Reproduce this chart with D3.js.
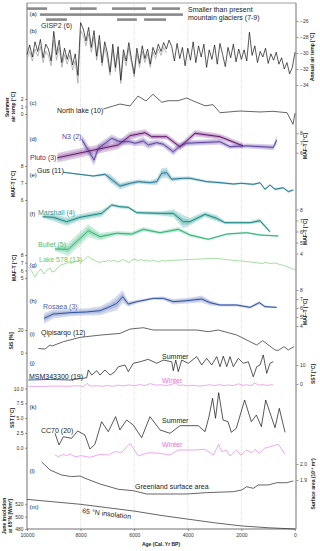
<!DOCTYPE html>
<html>
<head>
<meta charset="utf-8">
<script src="https://cdn.jsdelivr.net/npm/d3@7"></script>
<style>
body { margin: 0; background: #fff; }
svg text { font-family: "Liberation Sans", Arial, sans-serif; }
.tick text { font-size: 5px; fill: #333; }
.tick line { stroke: #555; stroke-width: 0.6; }
.lab { font-size: 7px; }
.plab { font-size: 6px; fill: #222; }
.atitle { font-size: 5px; font-weight: bold; fill: #222; }
</style>
</head>
<body>
<div id="chart"></div>
<script>
// ---- DATA (years BP) ----

// (a) glacier bars: [start, end] per row
const glacierRow1 = [[10000, 9250], [8400, 7400], [6830, 5560], [5340, 4290]];
const glacierRow2 = [[9520, 4180]];
const glacierRow3 = [[9290, 8510], [6640, 5900], [5630, 4810]];

// (b) GISP2 annual air temp, every 100 yr from 10000 to 0
const gisp2Black = [-30.2,-29.0,-30.5,-28.6,-29.8,-28.3,-30.6,-28.9,-29.5,-31.0,
  -27.3,-30.2,-28.4,-31.2,-29.4,-30.8,-29.6,-31.5,-30.1,-32.8,
  -26.2,-27.0,-28.5,-26.8,-29.3,-27.2,-30.4,-27.8,-31.2,-28.6,
  -30.0,-32.4,-28.9,-31.8,-29.2,-33.4,-29.6,-31.0,-28.7,-30.8,
  -32.6,-29.4,-31.3,-29.1,-30.7,-29.5,-31.4,-29.3,-30.2,-28.9,
  -29.8,-28.7,-29.5,-28.4,-29.2,-31.0,-28.8,-30.7,-29.3,-31.6,
  -29.4,-30.9,-28.6,-31.2,-29.1,-30.5,-28.9,-31.8,-29.6,-30.8,
  -29.0,-31.4,-28.8,-30.2,-31.7,-29.3,-30.6,-28.9,-31.1,-29.5,
  -30.8,-29.6,-31.0,-27.4,-30.3,-29.1,-31.2,-29.8,-30.5,-29.4,
  -31.3,-30.1,-30.9,-29.9,-31.4,-30.6,-32.0,-31.2,-32.6,-31.8,-29.9];
const gisp2Gray = [-30.8,-29.8,-31.0,-29.5,-30.4,-29.2,-31.2,-29.8,-30.3,-31.6,
  -28.4,-30.9,-29.3,-31.8,-30.2,-31.4,-30.3,-32.1,-31.0,-33.8,
  -27.2,-27.8,-29.1,-27.6,-29.9,-28.0,-30.9,-28.6,-31.6,-29.3,
  -30.7,-32.8,-29.6,-32.3,-29.9,-33.8,-30.2,-31.6,-29.4,-31.3,
  -33.0,-30.1,-31.8,-29.8,-31.2,-30.1,-31.8,-29.9,-30.7,-29.5,
  -30.3,-29.3,-30.0];

// (c) North lake summer air temp
const northYears = [7152,6530,6156,5858,5560,5298,4974,4738,4365,4041,3731,3358,3059,2798,2052,1306,821,298,75,0];
const northTemp  = [0.67,1.33,1.07,2.4,1.73,2.63,1.56,1.77,1.77,2.13,1.64,1.1,1.24,0.17,0.4,0.27,0.36,0.17,-1.37,0.1];

// (d) N3 and Pluto MAF-T
const n3Years = [7958,7499,7339,6839,6529,6156,5970,5660,5473,5160,4914,4541,4291,4041,3668,2798,2425,1802,810,683];
const n3Temp  = [7.38,5.25,6.45,7.48,7.13,7.13,6.97,7.2,6.8,7.03,6.87,6.1,6.7,6.97,7.03,7.13,6.62,6.7,6.55,7.3];
const n3Err   = [0.5,0.6,0.5,0.4,0.35,0.35,0.3,0.45,0.4,0.3,0.3,0.4,0.35,0.3,0.3,0.3,0.25,0.25,0.3,0.45];
const plutoYears = [8869,6593,6156,5597,5347,4787,4291,3731,2798,1940];
const plutoTemp  = [5.48,6.8,7.75,8.06,7.65,7.65,6.6,8.0,7.65,6.7];
const plutoErr   = [0.5,0.45,0.4,0.35,0.3,0.3,0.35,0.35,0.3,0.3];

// (e) Gus MAF-T
const gusYears = [8645,7526,7089,6902,6529,6156,5846,5410,5160,4974,4787,4600,4168,3918,3295,2798,2302,1989,1556,1306,1119,933,746,437,250,63];
const gusTemp  = [7.63,7.41,7.51,7.28,6.82,6.98,7.08,7.02,7.08,7.57,7.61,7.22,7.28,7.28,7.08,7.02,6.94,6.98,6.92,7.02,6.63,6.88,6.63,6.72,6.49,6.59];
const gusErr   = [0.04,0.06,0.1,0.25,0.2,0.15,0.12,0.12,0.2,0.3,0.3,0.15,0.1,0.1,0.08,0.08,0.06,0.06,0.06,0.06,0.08,0.06,0.08,0.06,0.08,0.06];

// (f) Marshall and Bullet MAF-T
const marshallYears = [9413,9018,8518,8022,7212,6839,6529,6220,5906,5037,4541,4168,3918,3358,2921,2612,1679,1306,933];
const marshallTemp  = [7.35,7.29,6.89,7.29,7.65,8.41,8.25,8.2,7.71,7.65,7.65,6.89,6.89,7.56,7.2,6.8,6.8,6.98,5.98];
const marshallErr   = [0.15,0.35,0.4,0.3,0.3,0.15,0.15,0.15,0.15,0.2,0.35,0.6,0.35,0.25,0.3,0.15,0.15,0.2,0.15];
const bulletYears = [8955,8458,7712,7275,6652,6093,5660,5037,4354,3918,3235,2548,1802,1306,623];
const bulletTemp  = [4.41,4.38,6.07,5.53,5.84,5.77,6.2,5.89,6.2,5.68,5.29,5.77,5.89,5.68,5.59];
const bulletErr   = [0.2,0.6,0.6,0.35,0.2,0.2,0.2,0.15,0.2,0.15,0.1,0.1,0.1,0.1,0.1];

// (g) Lake 578 MAF-T
const lake578Years = [9960,9850,9700,9589,9477,9365,9253,9141,9066,8955,8843,8731,8619,8507,8395,8283,8171,8059,7947,7835,
  7723,7611,7499,7387,7275,7164,7052,6977,6865,6753,6641,6529,6417,6305,6193,6082,5970,5858,5746,5634,
  5522,5410,5298,5186,5074,4962,4850,4664,4291,3918,3544,3171,2910,2612,2239,1866,1492,1231,1082,933,746,560,298,0];
const lake578Temp  = [6.48,6.05,5.14,5.79,6.18,5.53,6.05,6.31,5.79,5.92,6.44,6.70,6.83,6.96,7.09,7.03,7.16,7.29,7.16,7.48,
  7.81,7.48,7.35,7.16,7.03,7.22,7.09,7.35,7.16,7.35,7.09,7.22,7.42,7.22,7.03,7.35,7.48,7.22,7.42,7.22,
  7.35,7.16,7.35,7.22,7.09,7.29,7.22,7.29,7.35,7.42,7.48,7.55,7.57,7.42,7.29,7.16,7.03,6.90,7.03,6.90,6.96,6.77,6.51,6.05];

// (h) Rosaea MAF-T
const rosaeaYears = [9365,9018,8395,7772,7275,6902,6652,6429,6220,5906,5287,4914,4541,4041,3481,3171,2798,2175,1679,1332,1119,683];
const rosaeaTemp  = [4.85,5.33,5.48,5.56,5.7,6.15,6.52,7.26,6.44,6.7,7.07,7.07,6.7,6.81,7.0,6.59,6.33,6.33,6.07,6.59,6.15,6.07];
const rosaeaErr   = [0.6,0.5,0.4,0.4,0.5,0.6,0.8,0.7,0.3,0.2,0.15,0.2,0.3,0.3,0.4,0.3,0.15,0.15,0.15,0.2,0.15,0.1];

// (i) Qipisarqo SiS
const qipYears = [9578,9328,9141,9066,8645,8022,7275,6529,6156,5660,5287,4664,3668,3235,2862,2175,1429,1205,746,623,410,250,37];
const qipSiS   = [3.8,3.2,6.8,5.9,9.7,13.5,15.5,17.0,20.8,22.0,20.0,20.0,20.0,18.5,20.0,15.6,6.8,10.6,2.4,2.0,5.3,2.4,5.3];

// (j) MSM343300 SST
const msmSummerYears = [9951,9141,8395,7772,7712,7585,7399,7275,7089,6902,6716,6593,6343,6220,6033,5783,5474,5160,4914,4600,
  4541,4451,4354,4227,3981,3668,3481,3295,3108,2921,2798,2675,2548,2425,2302,2115,1929,1742,1556,1429,1306,1183,1056,933,810];
const msmSummerSST   = [2.1,2.4,2.1,3.3,7.4,4.7,7.0,4.7,7.4,4.7,6.5,9.1,10.0,6.5,10.9,11.7,13.0,10.9,12.6,11.7,
  7.0,12.6,6.5,12.6,10.9,14.4,10.0,13.5,10.0,14.4,9.1,14.7,9.1,14.4,9.1,13.5,10.9,11.7,3.8,9.1,10.0,15.3,5.6,10.9,11.7];
const msmWinterYears = [9950,9500,9000,8500,8100,7900,7750,7650,7400,7200,7000,6800,6600,6400,6200,6000,5800,5600,5400,5200,
  5000,4800,4600,4450,4350,4200,4000,3800,3600,3400,3200,3000,2800,2650,2500,2300,2100,1950,1800,1650,1500,1350,1200,1050,900,810];
const msmWinterSST   = [-1.2,-1.3,-1.1,-1.2,-0.9,-1.3,0.3,-1.1,-0.9,-1.2,-0.8,-1.2,-0.6,-1.0,-0.5,-0.9,-0.3,-0.8,0.2,-0.6,
  -0.4,-0.9,-0.2,0.5,-0.8,-0.5,-1.0,-0.7,-1.1,-0.9,-0.4,-0.8,-0.3,-0.9,-0.5,-0.8,0.1,-0.7,-0.4,-0.9,0.5,-0.6,-0.3,-0.8,-0.4,-0.6];

// (k) CC70 SST
const ccSummerYears = [8955,8806,8645,8335,8111,7839,7652,7466,7215,6966,6694,6534,6283,6033,5722,5410,5037,4664,4291,3608,3358,3210,3076,2966,2848,2687,2499,2376,2190,1880,1629,1442,1255,1094,746,585,373];
const ccSummerSST   = [2.43,0.46,1.86,1.59,2.82,2.15,-0.22,0.57,4.39,2.7,5.24,3.0,4.68,3.83,1.69,5.24,3.0,2.43,3.72,3.72,2.7,5.24,8.35,4.97,9.29,4.68,4.39,2.6,3.28,8.06,4.39,5.52,3.55,8.06,3.38,6.65,2.6];
const ccWinterYears = [8955,8831,8645,8520,8396,8209,7960,7652,7280,6966,6716,6468,6156,5846,5473,5037,4664,4354,3795,3358,3046,2848,2735,2550,2426,2177,2028,1803,1617,1493,1331,1144,933,623,373];
const ccWinterSST   = [-1.23,-1.52,-1.12,-1.35,-1.06,-1.52,-1.35,-1.63,-1.12,-1.23,-0.67,-0.78,0.74,-1.40,-0.84,-0.95,-1.23,-0.39,-0.39,-0.28,-1.23,0.57,-0.67,-0.39,-1.40,-0.39,-1.23,-0.39,-0.84,-0.28,-0.95,-0.11,0.17,0.57,-1.10];

// (l) Greenland surface area (10^12 m2)
const areaYears = [9451,9141,8705,8332,8022,7835,7275,6593,6033,5533,4787,4041,3295,2302,1989,1802,1556,1369,996,683,310,63];
const areaValue = [2.0125,1.9625,1.931,1.921,1.925,1.911,1.875,1.842,1.833,1.8125,1.8125,1.8125,1.821,1.827,1.8375,1.858,1.848,1.869,1.869,1.883,1.883,1.894];

// (m) June insolation at 65N
const insolYears = [10000,9000,8000,7000,6000,5000,4000,3000,2000,1000,0];
const insolValue = [528,524,520,514.5,509,502,496,490,485,482,480];

const ageTicks = [10000, 8000, 6000, 4000, 2000, 0];

// ---- LAYOUT ----
const width = 320, height = 551;
const plotLeft = 27, plotRight = 295, plotTop = 3, plotBottom = 529;

const svg = d3.select("#chart").append("svg")
    .attr("width", width)
    .attr("height", height);

const x = d3.scaleLinear().domain([10000, 0]).range([plotLeft, plotRight]);

// y scales per panel
const yB = d3.scaleLinear().domain([-34, -26]).range([85, 21]);
const yC = d3.scaleLinear().domain([0, 2]).range([114, 99]);
const yD = d3.scaleLinear().domain([6, 8]).range([152.7, 133.3]);
const yE = d3.scaleLinear().domain([6, 8]).range([200, 166]);
const yF = d3.scaleLinear().domain([4, 8]).range([253.5, 209.5]);
const yG = d3.scaleLinear().domain([5, 8]).range([278.1, 255]);
const yH = d3.scaleLinear().domain([4, 8]).range([326, 290]);
const yI = d3.scaleLinear().domain([0, 20]).range([352.7, 330]);
const yJ = d3.scaleLinear().domain([0, 10]).range([384, 365]);
const yK = d3.scaleLinear().domain([0, 10]).range([447.7, 388.5]);
const yL = d3.scaleLinear().domain([1.9, 2.0]).range([480, 464]);
const yM = d3.scaleLinear().domain([480, 520]).range([529, 504.3]);

// gridlines
svg.append("g").selectAll("line")
    .data(ageTicks.slice(1, -1))
    .enter().append("line")
    .attr("x1", d => x(d)).attr("x2", d => x(d))
    .attr("y1", plotTop).attr("y2", plotBottom)
    .attr("stroke", "#c8c8c8")
    .attr("stroke-width", 0.6)
    .attr("stroke-dasharray", "1.2,1.2");

// frame
svg.append("line").attr("x1", plotLeft).attr("x2", plotRight + 1).attr("y1", plotTop).attr("y2", plotTop).attr("stroke", "#777").attr("stroke-width", 0.7);
svg.append("line").attr("x1", plotLeft).attr("x2", plotLeft).attr("y1", plotTop).attr("y2", plotBottom).attr("stroke", "#333").attr("stroke-width", 0.7);
svg.append("line").attr("x1", plotLeft).attr("x2", plotRight + 1).attr("y1", plotBottom).attr("y2", plotBottom).attr("stroke", "#333").attr("stroke-width", 0.7);
svg.append("line").attr("x1", plotRight + 1).attr("x2", plotRight + 1).attr("y1", plotTop).attr("y2", plotBottom).attr("stroke", "#888").attr("stroke-width", 1.2);

// axes helpers
function leftAxis(scale, ticks, fmt) {
    svg.append("g")
        .attr("transform", "translate(" + plotLeft + ",0)")
        .call(d3.axisLeft(scale).tickValues(ticks).tickSize(2).tickPadding(1.5).tickFormat(fmt || d3.format("d")))
        .call(g => g.select(".domain").remove());
}
function rightAxis(scale, ticks, fmt) {
    svg.append("g")
        .attr("transform", "translate(" + (plotRight + 1.5) + ",0)")
        .call(d3.axisRight(scale).tickValues(ticks).tickSize(2).tickPadding(1.5).tickFormat(fmt || d3.format("d")))
        .call(g => g.select(".domain").remove());
}

rightAxis(yB, [-26, -28, -30, -32, -34]);
leftAxis(yC, [0, 1, 2]);
rightAxis(yD, [6, 7, 8]);
leftAxis(yE, [6, 7, 8]);
rightAxis(yF, [4, 5, 6, 7, 8]);
leftAxis(yG, [5, 6, 7, 8]);
rightAxis(yH, [4, 5, 6, 7, 8]);
leftAxis(yI, [0, 20]);
rightAxis(yJ, [0, 10]);
leftAxis(yK, [0, 2.5, 5, 7.5, 10], d3.format(".1f"));
rightAxis(yL, [1.9, 2.0], d3.format(".1f"));
leftAxis(yM, [480, 500, 520]);

// x axis
svg.append("g")
    .attr("transform", "translate(0," + plotBottom + ")")
    .call(d3.axisBottom(x).tickValues(ageTicks).tickSize(2).tickPadding(2).tickFormat(d3.format("d")))
    .call(g => g.select(".domain").remove());

svg.append("text").attr("class", "atitle")
    .attr("x", (plotLeft + plotRight) / 2).attr("y", 546)
    .attr("text-anchor", "middle")
    .text("Age (Cal. Yr BP)");

// axis titles (rotated)
function vTitle(lines, cx, cy, dx) {
    let t = svg.append("text").attr("class", "atitle")
        .attr("text-anchor", "middle")
        .attr("transform", "translate(" + cx + "," + cy + ") rotate(-90)");
    lines.forEach((s, i) => {
        t.append("tspan").attr("x", 0).attr("dy", i === 0 ? 0 : dx).text(s);
    });
}
vTitle(["Summer", "air temp [°C]"], 9, 107, 5.5);
vTitle(["MAF-T [°C]"], 15, 184);
vTitle(["MAF-T [°C]"], 16, 268);
vTitle(["SiS [%]"], 13, 341);
vTitle(["SST [°C]"], 14, 418);
vTitle(["June insolation", "at 65°N [W/m²]"], 6, 516, 5.5);
vTitle(["Annual air temp [°C]"], 314, 57);
vTitle(["MAF-T [°C]"], 307, 146);
vTitle(["MAF-T [°C]"], 307, 232);
vTitle(["MAF-T [°C]"], 307, 312);
vTitle(["SST [°C]"], 315, 374);
vTitle(["Surface area (10¹² m²)"], 315, 484);

// ---- (a) glacier bars ----
const barRows = [[glacierRow1, 7.3], [glacierRow2, 13.3], [glacierRow3, 18.3]];
barRows.forEach(([row, yy]) => {
    svg.append("g").selectAll("rect")
        .data(row)
        .enter().append("rect")
        .attr("x", d => x(d[0]))
        .attr("width", d => x(d[1]) - x(d[0]))
        .attr("y", yy)
        .attr("height", 2.6)
        .attr("fill", "#8a8a8a");
});

// generic drawing helpers
function drawLine(years, vals, yScale, color, w) {
    let line = d3.line().x(d => x(d[0])).y(d => yScale(d[1]));
    svg.append("path")
        .datum(d3.zip(years, vals))
        .attr("d", line)
        .attr("fill", "none")
        .attr("stroke", color)
        .attr("stroke-width", w || 0.8)
        .attr("stroke-linejoin", "round");
}
function drawBand(years, vals, errs, yScale, color) {
    let data = d3.zip(years, vals, errs);
    let outer = d3.area().x(d => x(d[0])).y0(d => yScale(d[1] - d[2])).y1(d => yScale(d[1] + d[2]));
    let inner = d3.area().x(d => x(d[0])).y0(d => yScale(d[1] - d[2] / 2)).y1(d => yScale(d[1] + d[2] / 2));
    svg.append("path").datum(data).attr("d", outer).attr("fill", color).attr("opacity", 0.3);
    svg.append("path").datum(data).attr("d", inner).attr("fill", color).attr("opacity", 0.35);
}

// ---- (b) GISP2 ----
const gispYears = d3.range(10000, -1, -100);
drawLine(gispYears.slice(0, gisp2Gray.length), gisp2Gray, yB, "#9a9a9a", 0.7);
drawLine(gispYears, gisp2Black, yB, "#111", 0.7);

// ---- (c) North lake ----
drawLine(northYears, northTemp, yC, "#222", 0.7);

// ---- (d) N3 / Pluto ----
drawBand(plutoYears, plutoTemp, plutoErr, yD, "#8e4f9e");
drawBand(n3Years, n3Temp, n3Err, yD, "#7a62b8");
drawLine(n3Years, n3Temp, yD, "#5a3e9c", 0.9);
drawLine(plutoYears, plutoTemp, yD, "#65196a", 1.0);

// ---- (e) Gus ----
drawBand(gusYears, gusTemp, gusErr, yE, "#4a9bb0");
drawLine(gusYears, gusTemp, yE, "#23738f", 0.9);

// ---- (f) Marshall / Bullet ----
drawBand(marshallYears, marshallTemp, marshallErr, yF, "#3fa8a0");
drawBand(bulletYears, bulletTemp, bulletErr, yF, "#52c28e");
drawLine(marshallYears, marshallTemp, yF, "#1f8a86", 1.0);
drawLine(bulletYears, bulletTemp, yF, "#35b57a", 1.0);

// ---- (g) Lake 578 ----
drawLine(lake578Years, lake578Temp, yG, "#66cc66", 0.6);

// ---- (h) Rosaea ----
drawBand(rosaeaYears, rosaeaTemp, rosaeaErr, yH, "#6f86c2");
drawLine(rosaeaYears, rosaeaTemp, yH, "#34559e", 1.0);

// ---- (i) Qipisarqo ----
drawLine(qipYears, qipSiS, yI, "#222", 0.7);

// ---- (j) MSM343300 ----
drawLine(msmSummerYears, msmSummerSST, yJ, "#111", 0.7);
drawLine(msmWinterYears, msmWinterSST, yJ, "#e46ee4", 0.6);

// ---- (k) CC70 ----
drawLine(ccSummerYears, ccSummerSST, yK, "#111", 0.7);
drawLine(ccWinterYears, ccWinterSST, yK, "#e46ee4", 0.6);

// ---- (l) surface area ----
drawLine(areaYears, areaValue, yL, "#222", 0.7);

// ---- (m) insolation ----
drawLine(insolYears, insolValue, yM, "#222", 0.7);

// ---- panel letters ----
const panelLetters = [["(a)", 15.5], ["(b)", 32.5], ["(c)", 105], ["(d)", 141], ["(e)", 176.5], ["(f)", 216],
    ["(g)", 267], ["(h)", 303], ["(i)", 336], ["(j)", 364.5], ["(k)", 408.5], ["(l)", 473], ["(m)", 509]];
svg.append("g").selectAll("text")
    .data(panelLetters)
    .enter().append("text")
    .attr("class", "plab")
    .attr("x", 29.5)
    .attr("y", d => d[1])
    .text(d => d[0]);

// ---- record labels ----
const recLabels = [
    ["Smaller than present", 188, 12, "#222", 0],
    [" mountain glaciers (7-9)", 188, 19.5, "#222", 0],
    ["GISP2 (6)", 41, 27.5, "#333", 0],
    ["North lake (10)", 57, 112.5, "#222", 0],
    ["N3 (2)", 62, 138.5, "#5a3e9c", 0],
    ["Pluto (3)", 30, 159.5, "#65196a", 0],
    ["Gus (11)", 37, 173, "#222", 0],
    ["Marshall (4)", 38, 214.5, "#2a9a92", 0],
    ["Bullet (5)", 38, 246.5, "#3fbf85", 0],
    ["Lake 578 (13)", 39, 261.5, "#66cc66", 0],
    ["Rosaea (3)", 43, 308.5, "#4d66aa", 0],
    ["Qipisarqo (12)", 41, 334.5, "#222", 0],
    ["Summer", 162, 359, "#222", 0],
    ["MSM343300 (19)", 29, 378.5, "#222", 0],
    ["Winter", 162, 383, "#e46ee4", 0],
    ["Summer", 162, 423, "#222", 0],
    ["CC70 (20)", 41, 432.5, "#222", 0],
    ["Winter", 162, 446.5, "#e46ee4", 0],
    ["Greenland surface area", 135, 488.5, "#222", 0],
    ["65 °N insolation", 82, 513, "#222", 7]
];
svg.append("g").selectAll("text")
    .data(recLabels)
    .enter().append("text")
    .attr("class", "lab")
    .attr("fill", d => d[3])
    .attr("transform", d => "translate(" + d[1] + "," + d[2] + ") rotate(" + d[4] + ")")
    .text(d => d[0]);
</script>
</body>
</html>
